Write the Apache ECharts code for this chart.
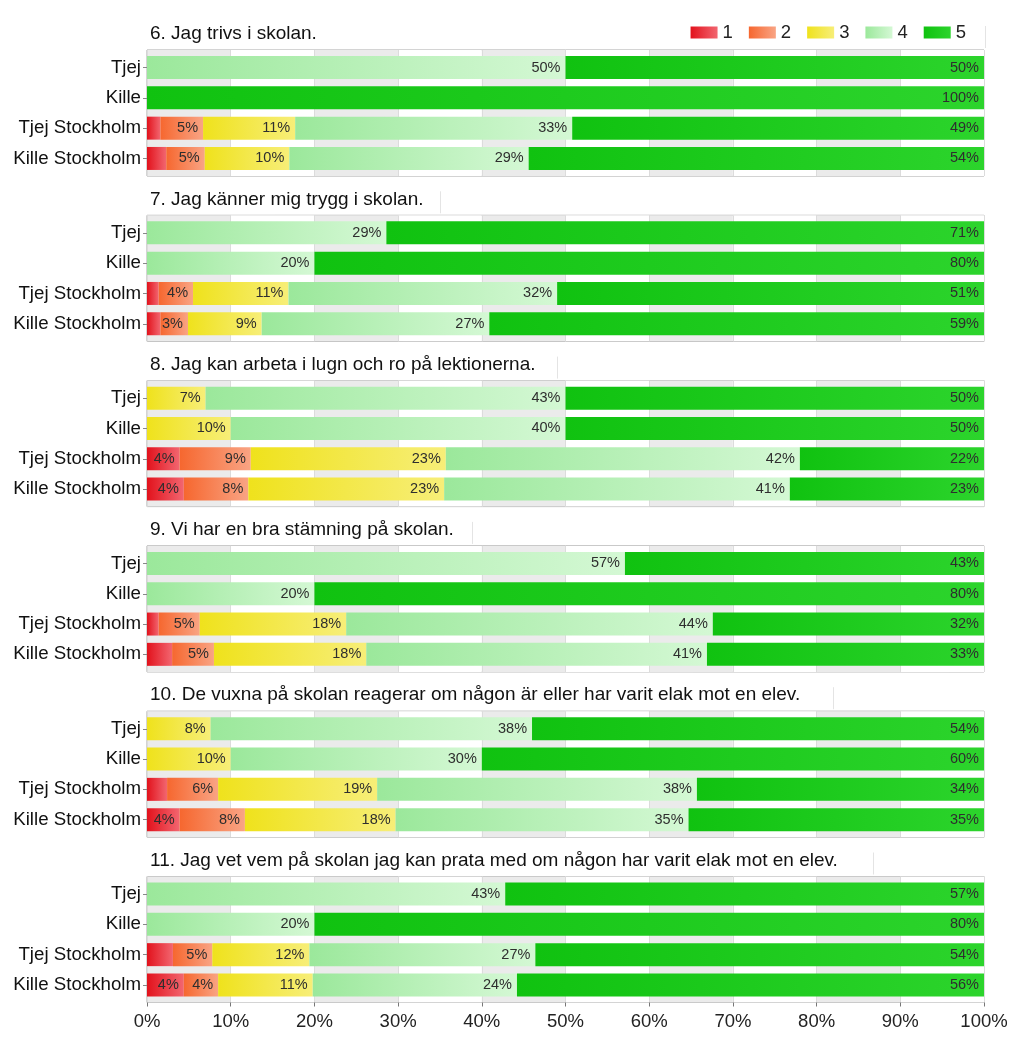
<!DOCTYPE html>
<html>
<head>
<meta charset="utf-8">
<script src="https://cdn.jsdelivr.net/npm/echarts@6/dist/echarts.min.js"></script>
<style>
html,body{margin:0;padding:0;background:#fff;}
#chart{width:1024px;height:1041px;}
</style>
</head>
<body>
<div id="chart"></div>
<script>
// ---- data ----
const categories = ['Tjej', 'Kille', 'Tjej Stockholm', 'Kille Stockholm'];
const levels = ['1', '2', '3', '4', '5'];
const questions = [
  '6. Jag trivs i skolan.',
  '7. Jag känner mig trygg i skolan.',
  '8. Jag kan arbeta i lugn och ro på lektionerna.',
  '9. Vi har en bra stämning på skolan.',
  '10. De vuxna på skolan reagerar om någon är eller har varit elak mot en elev.',
  '11. Jag vet vem på skolan jag kan prata med om någon har varit elak mot en elev.'
];
const xTicks = ['0%', '10%', '20%', '30%', '40%', '50%', '60%', '70%', '80%', '90%', '100%'];
// rows: one per category, values for answer 1..5 (percent)
const q6  = [[0, 0, 0, 50, 50], [0, 0, 0, 0, 100], [1.6, 5.1, 11.0, 33.1, 49.2], [2.3, 4.6, 10.1, 28.6, 54.4]];
const q7  = [[0, 0, 0, 28.6, 71.4], [0, 0, 0, 20, 80], [1.4, 4.1, 11.4, 32.1, 51.0], [1.6, 3.3, 8.8, 27.2, 59.1]];
const q8  = [[0, 0, 7.0, 43.0, 50.0], [0, 0, 10, 40, 50], [3.9, 8.5, 23.3, 42.3, 22.0], [4.4, 7.7, 23.4, 41.3, 23.2]];
const q9  = [[0, 0, 0, 57.1, 42.9], [0, 0, 0, 20, 80], [1.4, 4.9, 17.5, 43.8, 32.4], [3.0, 5.0, 18.2, 40.7, 33.1]];
const q10 = [[0, 0, 7.6, 38.4, 54.0], [0, 0, 10, 30, 60], [2.4, 6.1, 19.0, 38.2, 34.3], [3.9, 7.8, 18.0, 35.0, 35.3]];
const q11 = [[0, 0, 0, 42.8, 57.2], [0, 0, 0, 20, 80], [3.1, 4.7, 11.6, 27.0, 53.6], [4.4, 4.1, 11.3, 24.4, 55.8]];
const panels = [q6, q7, q8, q9, q10, q11];

// ---- styling ----
const FONT = '"Liberation Sans", Arial, sans-serif';
const TITLE_SIZE = 19;
const titleLineX = [985, 440, 557, 472, 833, 873];
const gradStops = [
  ['#e2121c', '#f26670'],
  ['#f6672f', '#f9a484'],
  ['#efe21c', '#f7ee78'],
  ['#9be89b', '#d4f8d4'],
  ['#10c210', '#2cd42c']
];
function grad(i) {
  return new echarts.graphic.LinearGradient(0, 0, 1, 0, [
    {offset: 0, color: gradStops[i][0]},
    {offset: 1, color: gradStops[i][1]}
  ]);
}

const gridLeft = 147, gridRight = 40, frameH = 126, pad = 2.4, firstTop = 50, pitch = 165.3;

const grids = [], xAxes = [], yAxes = [], series = [], titles = [], graphics = [];
panels.forEach((rows, p) => {
  const top = firstTop + p * pitch;
  const last = p === panels.length - 1;
  const bg = 2 * p, fg = 2 * p + 1;
  grids.push({left: gridLeft, right: gridRight, top: top, height: frameH, show: true,
    borderColor: '#a8a8a8', borderWidth: 1, backgroundColor: 'transparent'});
  grids.push({left: gridLeft, right: gridRight, top: top + pad, height: frameH - 2 * pad});
  titles.push({text: questions[p], left: 150, top: top - 15 - 10.5, padding: 0,
    textStyle: {fontFamily: FONT, fontSize: TITLE_SIZE, fontWeight: 'normal', color: '#111'}});
  const lx = titleLineX[p] + 0.5;
  graphics.push({type: 'line', silent: true,
    shape: {x1: lx, y1: top - 24, x2: lx, y2: top - 2},
    style: {stroke: '#e4e4e4', lineWidth: 1}});

  xAxes.push({type: 'value', gridIndex: bg, min: 0, max: 100, interval: 10,
    axisLine: {show: false},
    axisTick: {show: last, length: 4, lineStyle: {color: '#777'}},
    axisLabel: {show: last, fontFamily: FONT, fontSize: 18.5, color: '#222', margin: 10,
      formatter: v => xTicks[Math.round(v / 10)]},
    splitLine: {show: true, lineStyle: {color: '#dcdcdc', width: 1}},
    splitArea: {show: true, areaStyle: {color: ['#ebebeb', '#ffffff']}}
  });
  yAxes.push({type: 'value', gridIndex: bg, show: false});

  xAxes.push({type: 'value', gridIndex: fg, min: 0, max: 100, interval: 10, show: false,
    splitLine: {show: false}});
  yAxes.push({type: 'category', gridIndex: fg, data: categories, inverse: true,
    axisLine: {show: false},
    axisTick: {show: true, length: 4, alignWithLabel: true, lineStyle: {color: '#888'}},
    axisLabel: {fontFamily: FONT, fontSize: 18.7, color: '#111', margin: 6},
    splitLine: {show: false}
  });
  levels.forEach((lv, i) => {
    series.push({
      name: lv, type: 'bar', stack: 'q' + p, xAxisIndex: fg, yAxisIndex: fg,
      barWidth: 23,
      data: rows.map(r => r[i]),
      itemStyle: {color: grad(i)},
      label: {show: true, position: 'insideRight', distance: 5,
        fontFamily: FONT, fontSize: 14.5, color: '#2e2e2e',
        formatter: prm => prm.value >= 3.2 ? Math.round(prm.value) + '%' : ''},
      emphasis: {disabled: true}
    });
  });
});

const chart = echarts.init(document.getElementById('chart'), null, {renderer: 'canvas'});
chart.setOption({
  animation: false,
  title: titles,
  legend: {data: levels.map((lv, i) => ({name: lv, itemStyle: {color: grad(i)}})),
    right: 58, top: 23, padding: 0, icon: 'rect', itemWidth: 27, itemHeight: 12, itemGap: 16,
    textStyle: {fontFamily: FONT, fontSize: 18.5, color: '#222'}},
  grid: grids,
  xAxis: xAxes,
  yAxis: yAxes,
  series: series,
  graphic: graphics
});
</script>
</body>
</html>
